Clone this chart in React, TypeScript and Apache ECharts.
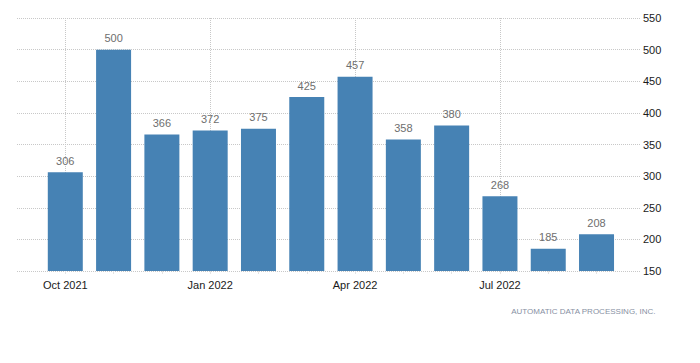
import React, { useEffect, useRef } from "react";
import * as echarts from "echarts";

const months = [
  "Oct 2021", "Nov 2021", "Dec 2021", "Jan 2022", "Feb 2022", "Mar 2022",
  "Apr 2022", "May 2022", "Jun 2022", "Jul 2022", "Aug 2022", "Sep 2022",
];
const values = [306, 500, 366, 372, 375, 425, 457, 358, 380, 268, 185, 208];
const labelIndices = [0, 3, 6, 9];
const yTicks = { min: 150, max: 550, interval: 50 };
const source = "AUTOMATIC DATA PROCESSING, INC.";

export default function App() {
  const ref = useRef<HTMLDivElement>(null);
  useEffect(() => {
    if (!ref.current) return;
    const chart = echarts.init(ref.current, null, { renderer: "svg" });
    const font = "'Liberation Sans', Arial, sans-serif";
    chart.setOption({
      animation: false,
      backgroundColor: "#ffffff",
      grid: { left: 17, right: 60, top: 18, bottom: 92, containLabel: false, outerBoundsMode: "none" },
      xAxis: {
        type: "value",
        min: -1,
        max: 11.9,
        axisLine: { show: false },
        axisTick: {
          show: true,
          customValues: months.map((_, i) => i),
          length: 3,
          lineStyle: { color: "#e4e4e4" },
        },
        axisLabel: {
          customValues: labelIndices,
          formatter: (v: number) => months[Math.round(v)] ?? "",
          color: "#1a1a1a",
          fontSize: 11,
          fontFamily: font,
          margin: 8,
        },
        splitLine: { show: false },
      },
      yAxis: {
        type: "value",
        position: "right",
        min: yTicks.min,
        max: yTicks.max,
        interval: yTicks.interval,
        axisLine: { show: false },
        axisTick: { show: false },
        axisLabel: { color: "#1a1a1a", fontSize: 11, fontFamily: font, margin: 3 },
        splitLine: { show: true, lineStyle: { type: "dotted", color: "#c8c8c8", width: 1 } },
      },
      series: [
        {
          type: "line",
          z: 1,
          data: [],
          markLine: {
            silent: true,
            z: 1,
            symbol: "none",
            label: { show: false },
            lineStyle: { type: "dotted", color: "#c8c8c8", width: 1 },
            data: labelIndices.map((i) => ({ xAxis: i })),
          },
        },
        {
          type: "bar",
          z: 3,
          data: values.map((v, i) => [i, v]),
          barWidth: 35,
          itemStyle: { color: "#4682b4" },
          label: {
            show: true,
            position: "top",
            distance: 6,
            color: "#6e6e6e",
            fontSize: 11,
            fontFamily: font,
            formatter: (p: any) => String(p.value[1]),
          },
        },
      ],
      graphic: [
        {
          type: "text",
          right: 44,
          top: 307,
          style: {
            text: source,
            fill: "#8790a3",
            fontSize: 8,
            fontFamily: font,
          },
        },
      ],
    });
    return () => chart.dispose();
  }, []);
  return (
    <div
      ref={ref}
      style={{ position: "fixed", left: 0, top: 0, width: 700, height: 363 }}
    />
  );
}
